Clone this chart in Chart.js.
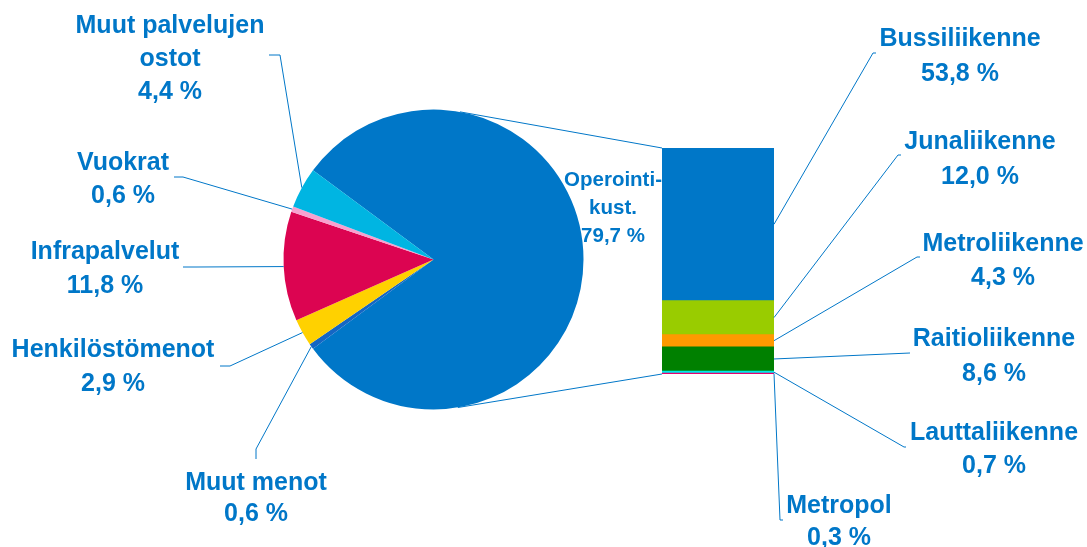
<!DOCTYPE html>
<html lang="fi">
<head>
<meta charset="utf-8">
<title>Kustannusrakenne</title>
<script src="https://cdn.jsdelivr.net/npm/chart.js@4.4.1/dist/chart.umd.min.js"></script>
<style>
  body { margin: 0; background: #fff; }
  #kuva { position: relative; width: 1087px; height: 547px; }
  #kuva canvas { position: absolute; left: 0; top: 0; }
</style>
</head>
<body>
<div id="kuva">
  <canvas id="piirakka" width="1087" height="547"></canvas>
  <canvas id="pylvas" width="1087" height="547"></canvas>
</div>
<script>
// piirakka: kaikki kustannukset, myötäpäivään operointikustannuksista alkaen
const piirakkaLuokat = ['Operointi-\nkust.', 'Muut menot', 'Henkilöstömenot', 'Infrapalvelut', 'Vuokrat', 'Muut palvelujen\nostot'];
const piirakkaArvot = [79.7, 0.6, 2.9, 11.8, 0.6, 4.4];

// pylväs: operointikustannusten jako (osuus kaikista kustannuksista)
const pylvasLuokat = ['Bussiliikenne', 'Junaliikenne', 'Metroliikenne', 'Raitioliikenne', 'Lauttaliikenne', 'Metropol'];
const pylvasArvot = [53.8, 12.0, 4.3, 8.6, 0.7, 0.3];

const piirakkaVarit = ['#0077c8', '#1466c4', '#ffd100', '#dc0451', '#f7a1cf', '#00b5e2'];
const pylvasVarit = ['#0077c8', '#99cc00', '#ff9900', '#008000', '#00e8e8', '#e6006e'];

const TEKSTIVARI = '#0077c8';
const FONTTI = '"Liberation Sans", Arial, sans-serif';

// selitteiden paikat: x = keskikohta, y = ensimmäisen rivin perusviiva, viiva = johtoviivan pisteet tekstin päästä
const piirakkaSelitteet = [
    { x: 613, y: 186, rivi: 28, koko: 20.5 },
    { x: 256, y: 490, rivi: 31, viiva: [[256, 459], [256, 449]] },
    { x: 113, y: 357, rivi: 34, viiva: [[220, 366], [230, 366]] },
    { x: 105, y: 259, rivi: 34, viiva: [[183, 267], [197, 267]] },
    { x: 123, y: 170, rivi: 33, viiva: [[174, 177], [183, 177]] },
    { x: 170, y: 33, rivi: 33, viiva: [[269, 55], [280, 55]] }
];
const pylvasSelitteet = [
    { x: 960, y: 46, rivi: 35, viiva: [[876, 53], [873, 53]] },
    { x: 980, y: 149, rivi: 35, viiva: [[901, 155], [898, 155]] },
    { x: 1003, y: 251, rivi: 34, viiva: [[920, 257], [917, 257]] },
    { x: 994, y: 346, rivi: 35, viiva: [[910, 353]] },
    { x: 994, y: 440, rivi: 33, viiva: [[906, 447], [904, 447]] },
    { x: 839, y: 513, rivi: 32, viiva: [[783, 520], [780, 520]] }
];

function prosentti(arvo) {
    return `${arvo.toFixed(1).replace('.', ',')} %`;
}

function kirjoita(ctx, teksti, arvo, paikka) {
    const rivit = teksti.split('\n');
    rivit.push(prosentti(arvo));
    ctx.font = `bold ${paikka.koko || 25}px ${FONTTI}`;
    ctx.fillStyle = TEKSTIVARI;
    ctx.textAlign = 'center';
    ctx.textBaseline = 'alphabetic';
    for (let i = 0; i < rivit.length; i++) {
        ctx.fillText(rivit[i], paikka.x, paikka.y + i * paikka.rivi);
    }
}

function johtoviiva(ctx, pisteet, x, y) {
    ctx.beginPath();
    ctx.moveTo(pisteet[0][0], pisteet[0][1]);
    for (let i = 1; i < pisteet.length; i++) {
        ctx.lineTo(pisteet[i][0], pisteet[i][1]);
    }
    ctx.lineTo(x, y);
    ctx.stroke();
}

// tangenttipiste ympyrältä ulkopuoliseen pisteeseen
function tangentti(kx, ky, r, px, py, suunta) {
    const d = Math.hypot(px - kx, py - ky);
    const kulma = Math.atan2(py - ky, px - kx) + suunta * Math.acos(r / d);
    return [kx + r * Math.cos(kulma), ky + r * Math.sin(kulma)];
}

const summa = piirakkaArvot.reduce((a, b) => a + b, 0);
const operointiSumma = pylvasArvot.reduce((a, b) => a + b, 0);

const piirakka = new Chart(document.getElementById('piirakka'), {
    type: 'pie',
    data: {
        labels: piirakkaLuokat,
        datasets: [{
            data: piirakkaArvot,
            backgroundColor: piirakkaVarit,
            borderWidth: 0
        }]
    },
    options: {
        responsive: false,
        animation: false,
        // operointikustannukset keskitetään oikealle
        rotation: 90 - piirakkaArvot[0] / summa * 180,
        layout: { padding: { left: 283.5, right: 503.5, top: 109.5, bottom: 137.5 } },
        plugins: { legend: { display: false }, tooltip: { enabled: false } }
    }
});

const selitteet = {
    id: 'selitteet',
    afterDraw(chart) {
        const ctx = chart.ctx;
        const kaaret = piirakka.getDatasetMeta(0).data;
        const n = pylvasLuokat.length;

        ctx.save();
        ctx.strokeStyle = TEKSTIVARI;
        ctx.lineWidth = 1;

        // piirakan ja pylvään yhdysviivat
        const kaari0 = kaaret[0].getProps(['x', 'y', 'outerRadius'], true);
        const ylin = chart.getDatasetMeta(0).data[0].getProps(['x', 'y', 'base', 'width'], true);
        const alin = chart.getDatasetMeta(n - 1).data[0].getProps(['x', 'y', 'base', 'width'], true);
        const vasen = ylin.x - ylin.width / 2;
        const ylaKulma = [vasen, chart.getDatasetMeta(n - 1).data[0].y];
        const alaKulma = [vasen, ylin.base];
        const t1 = tangentti(kaari0.x, kaari0.y, kaari0.outerRadius, ylaKulma[0], ylaKulma[1], -1);
        const t2 = tangentti(kaari0.x, kaari0.y, kaari0.outerRadius, alaKulma[0], alaKulma[1], 1);
        ctx.beginPath();
        ctx.moveTo(t1[0], t1[1]);
        ctx.lineTo(ylaKulma[0], ylaKulma[1]);
        ctx.moveTo(t2[0], t2[1]);
        ctx.lineTo(alaKulma[0], alaKulma[1]);
        ctx.stroke();

        // piirakan selitteet
        for (let i = 0; i < kaaret.length; i++) {
            const paikka = piirakkaSelitteet[i];
            if (paikka.viiva) {
                const k = kaaret[i].getProps(['x', 'y', 'startAngle', 'endAngle', 'outerRadius'], true);
                const kulma = (k.startAngle + k.endAngle) / 2;
                johtoviiva(ctx, paikka.viiva, k.x + k.outerRadius * Math.cos(kulma), k.y + k.outerRadius * Math.sin(kulma));
            }
            kirjoita(ctx, piirakkaLuokat[i], piirakkaArvot[i], paikka);
        }

        // pylvään selitteet
        for (let i = 0; i < n; i++) {
            const palkki = chart.getDatasetMeta(n - 1 - i).data[0].getProps(['x', 'y', 'base', 'width'], true);
            johtoviiva(ctx, pylvasSelitteet[i].viiva, palkki.x + palkki.width / 2, (palkki.y + palkki.base) / 2);
            kirjoita(ctx, pylvasLuokat[i], pylvasArvot[i], pylvasSelitteet[i]);
        }
        ctx.restore();
    }
};

// pinottu pylväs: Bussiliikenne ylimpänä, joten sarjat käänteisessä järjestyksessä
const pylvasSarjat = [];
for (let i = pylvasLuokat.length - 1; i >= 0; i--) {
    pylvasSarjat.push({
        label: pylvasLuokat[i],
        data: [pylvasArvot[i]],
        backgroundColor: pylvasVarit[i],
        borderWidth: 0,
        barPercentage: 1,
        categoryPercentage: 1
    });
}

new Chart(document.getElementById('pylvas'), {
    type: 'bar',
    data: {
        labels: ['Operointikustannukset'],
        datasets: pylvasSarjat
    },
    options: {
        responsive: false,
        animation: false,
        layout: { padding: { left: 662, right: 313, top: 148, bottom: 173 } },
        scales: {
            x: { stacked: true, display: false },
            y: { stacked: true, display: false, min: 0, max: operointiSumma }
        },
        plugins: { legend: { display: false }, tooltip: { enabled: false } }
    },
    plugins: [selitteet]
});
</script>
</body>
</html>
